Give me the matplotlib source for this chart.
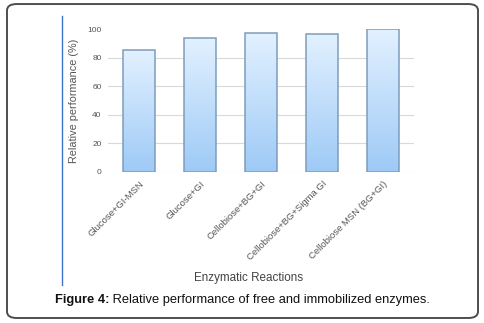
import matplotlib
matplotlib.use("Agg")
from matplotlib import pyplot as plt
from matplotlib.patches import FancyBboxPatch, Rectangle
from matplotlib.lines import Line2D
import numpy as np

plt.rcParams['font.family'] = ['Liberation Sans', 'DejaVu Sans']

reactions = ["Glucose+GI-MSN", "Glucose+GI", "Cellobiose+BG+GI",
             "Cellobiose+BG+Sigma GI", "Cellobiose MSN (BG+GI)"]
performance = [85, 93.5, 97, 96.5, 100]
yticks = [0, 20, 40, 60, 80, 100]

fig = plt.figure(figsize=(4.85, 3.23), dpi=100)

# rounded frame around figure + caption
frame = FancyBboxPatch((0.0144, 0.0155), 0.9712, 0.972,
                       boxstyle="round,pad=0,rounding_size=0.02",
                       transform=fig.transFigure, fill=False,
                       edgecolor="#4d4d4d", linewidth=1.4)
fig.patches.append(frame)
fig.lines.append(Line2D([0.128, 0.128], [0.118, 0.950], transform=fig.transFigure,
                        color="#3f72c8", linewidth=1.0))

ax = fig.add_axes([0.2237, 0.4675, 0.629, 0.4427])

for yv in yticks[:-1]:
    ax.axhline(yv, color="#d9d9d9", linewidth=0.8, zorder=0)

grad = np.linspace(0, 1, 256).reshape(-1, 1)
cmap = matplotlib.colors.LinearSegmentedColormap.from_list("bg", ["#9ecaf6", "#e2f1ff"])
width = 0.51
for i, v in enumerate(performance):
    rect = Rectangle((i - width / 2, 0), width, v, facecolor="none",
                     edgecolor="#7d9cbc", linewidth=1.1, zorder=3)
    ax.add_patch(rect)
    im = ax.imshow(grad, extent=[i - width / 2, i + width / 2, 0, v], origin="lower",
                   cmap=cmap, aspect="auto", zorder=2)
    im.set_clip_path(rect)
ax.set_xlim(-0.5, 4.5)
ax.set_ylim(0, 100)

for s in ax.spines.values():
    s.set_visible(False)
ax.set_yticks(yticks)
ax.set_yticklabels([str(t) for t in yticks], fontsize=6, color="#555555")
ax.tick_params(axis="y", length=0, pad=5)
ax.set_xticks(range(len(reactions)))
ax.set_xticklabels(reactions, rotation=45, ha="right", rotation_mode="anchor",
                   fontsize=6.8, color="#555555")
ax.tick_params(axis="x", length=0, pad=5)
ax.set_ylabel("Relative performance (%)", fontsize=7.8, color="#555555", labelpad=6)

fig.text(0.512, 0.139, "Enzymatic Reactions", ha="center", va="center",
         fontsize=8.4, color="#444444")

# caption: bold label followed by normal text
cap1 = fig.text(0.113, 0.071, "Figure 4:", ha="left", va="center",
                fontsize=9.3, fontweight="bold", color="#111111")
fig.canvas.draw()
bb = cap1.get_window_extent().transformed(fig.transFigure.inverted())
fig.text(bb.x1, 0.071, " Relative performance of free and immobilized enzymes.",
         ha="left", va="center", fontsize=9.3, color="#111111")

fig.savefig("out.png", dpi=100)
